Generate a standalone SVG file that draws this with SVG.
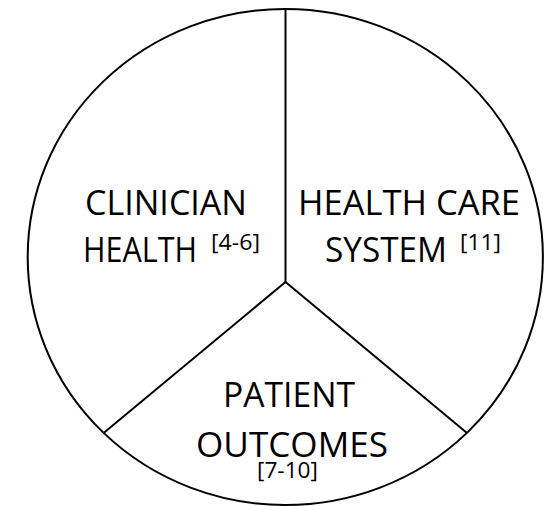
<svg xmlns="http://www.w3.org/2000/svg" width="551" height="506" viewBox="0 0 551 506">
<style>
.l{fill:none;stroke:#000;stroke-width:2}
.t{font-family:"Open Sans","Liberation Sans",sans-serif;font-size:34px;fill:#000}
.s{font-family:"Open Sans","Liberation Sans",sans-serif;font-size:21px;fill:#000}
</style>
<rect width="551" height="506" fill="#fff"/>
<g id="outline">
<ellipse class="l" cx="285.3" cy="257" rx="257.6" ry="248"/>
</g>
<g id="connectors">
<line class="l" x1="285.5" y1="9" x2="285.5" y2="282"/>
<line class="l" x1="285.5" y1="282" x2="103" y2="433.5"/>
<line class="l" x1="285.5" y1="282" x2="467" y2="433"/>
</g>
<g id="clinician">
<text class="t" x="85" y="215" textLength="162" lengthAdjust="spacingAndGlyphs">CLINICIAN</text>
<text class="t" x="83" y="262" textLength="114" lengthAdjust="spacingAndGlyphs">HEALTH</text>
<text class="s" x="211" y="250" textLength="49" lengthAdjust="spacingAndGlyphs">[4-6]</text>
</g>
<g id="system">
<text class="t" x="298" y="215" textLength="222" lengthAdjust="spacingAndGlyphs">HEALTH CARE</text>
<text class="t" x="325" y="262" textLength="122" lengthAdjust="spacingAndGlyphs">SYSTEM</text>
<text class="s" x="460" y="250" textLength="41" lengthAdjust="spacingAndGlyphs">[11]</text>
</g>
<g id="patient">
<text class="t" x="223" y="407" textLength="132" lengthAdjust="spacingAndGlyphs">PATIENT</text>
<text class="t" x="196" y="457" textLength="192" lengthAdjust="spacingAndGlyphs">OUTCOMES</text>
<text class="s" x="257" y="478" textLength="61" lengthAdjust="spacingAndGlyphs">[7-10]</text>
</g>
</svg>
